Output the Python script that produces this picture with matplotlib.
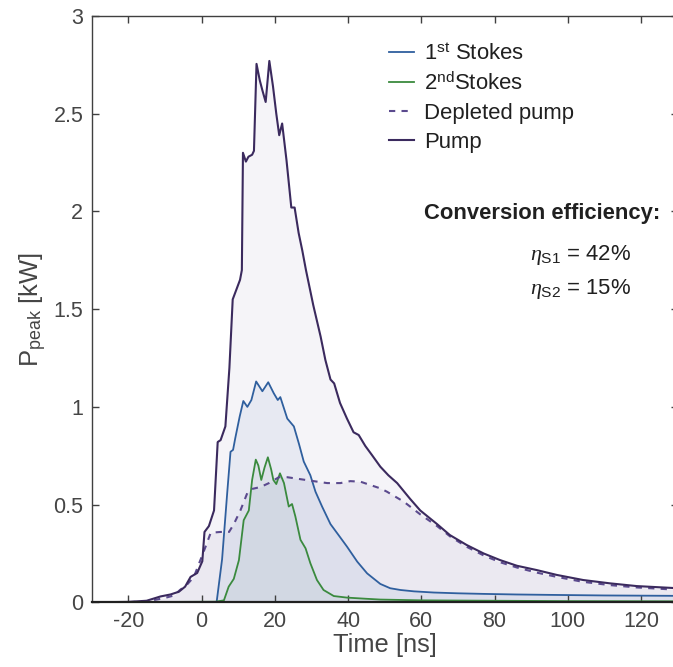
import matplotlib
matplotlib.use("Agg")
import matplotlib.pyplot as plt
from matplotlib.ticker import FuncFormatter

plt.rcParams['font.family'] = ['Liberation Sans', 'DejaVu Sans']
plt.rcParams['mathtext.fontset'] = 'custom'
plt.rcParams['mathtext.rm'] = 'Liberation Sans'
plt.rcParams['mathtext.it'] = 'Liberation Serif:italic'
plt.rcParams['mathtext.bf'] = 'Liberation Sans:bold'

# ---------------- data ----------------
pump_t = [-30, -20, -15, -11.2, -8.5, -6.2, -4.5, -3.0, -1.2, 0.2, 0.8, 2.0, 3.4, 4.4, 5.2,
          6.5, 7.6, 8.5, 9.5, 10.5, 11.0, 11.3, 12.1, 12.8, 13.8, 14.3, 15.0, 15.9, 16.6,
          17.5, 18.5, 19.5, 20.4, 21.2, 22.0, 23.2, 24.5, 25.4, 26.5, 27.5, 28.5, 29.5,
          30.5, 31.5, 32.5, 33.8, 35.2, 36.2, 37.8, 39.7, 41.5, 42.9, 44.7, 46.5, 48.8,
          51.0, 53.4, 56.9, 59.7, 64.3, 67.8, 72.4, 77.0, 81.5, 86.1, 91.5, 97.0, 104.2,
          111.5, 118.8, 130]
pump_p = [0.0, 0.002, 0.008, 0.03, 0.04, 0.054, 0.08, 0.13, 0.15, 0.21, 0.36, 0.39, 0.47, 0.82, 0.83,
          0.9, 1.2, 1.55, 1.6, 1.65, 1.7, 2.30, 2.255, 2.28, 2.29, 2.31, 2.755, 2.67, 2.62,
          2.56, 2.77, 2.64, 2.50, 2.39, 2.45, 2.26, 2.02, 2.02, 1.89, 1.80, 1.70, 1.61,
          1.52, 1.44, 1.36, 1.24, 1.14, 1.12, 1.02, 0.94, 0.87, 0.856, 0.80, 0.754, 0.694,
          0.65, 0.61, 0.53, 0.47, 0.40, 0.344, 0.293, 0.25, 0.216, 0.187, 0.165, 0.14, 0.114,
          0.097, 0.083, 0.072]

dep_t = [-30, -20, -15, -10.5, -7.5, -5.9, -4.0, -2.1, 1.1, 2.5, 5.2, 7.5, 8.8, 10.6, 12.5,
         13.8, 16.1, 18.4, 21.1, 23.4, 27.0, 30.6, 34.3, 37.9, 40.6, 43.4, 46.1, 48.8, 50.6,
         55.2, 59.7, 64.3, 68.0, 72.5, 77.0, 81.5, 86.1, 91.5, 97.0, 104.0, 111.5, 118.8, 130]
dep_p = [0.0, 0.001, 0.005, 0.02, 0.035, 0.063, 0.09, 0.13, 0.285, 0.356, 0.36, 0.36, 0.40, 0.47, 0.56,
         0.58, 0.59, 0.61, 0.64, 0.64, 0.63, 0.62, 0.61, 0.61, 0.62, 0.617, 0.60, 0.583, 0.566,
         0.515, 0.45, 0.39, 0.335, 0.283, 0.24, 0.205, 0.178, 0.152, 0.13, 0.105, 0.088, 0.076, 0.064]

s1_t = [-30, 4.1, 5.6, 7.0, 7.9, 8.6, 9.2, 10.4, 11.4, 12.5, 13.6, 14.9, 16.6, 18.2, 19.7,
        20.8, 21.5, 23.4, 25.2, 26.6, 27.9, 29.7, 31.1, 32.9, 35.2, 37.4, 39.7, 42.5, 45.2,
        48.8, 51.5, 54.3, 58.0, 63.4, 70.0, 77.0, 86.0, 95.0, 110.0, 130]
s1_p = [0.0, 0.0, 0.22, 0.56, 0.77, 0.78, 0.84, 0.95, 1.03, 1.00, 1.035, 1.13, 1.08, 1.126, 1.07,
        1.035, 1.05, 0.94, 0.90, 0.81, 0.72, 0.65, 0.566, 0.49, 0.40, 0.344, 0.285, 0.208, 0.148,
        0.094, 0.072, 0.063, 0.056, 0.05, 0.046, 0.043, 0.040, 0.038, 0.035, 0.033]

s2_t = [-30, 3.8, 6.1, 7.4, 8.8, 10.2, 11.5, 12.9, 13.8, 14.8, 15.5, 16.3, 17.2, 18.1, 19.0,
        19.6, 20.4, 21.4, 22.5, 23.8, 24.7, 25.6, 27.0, 28.4, 29.7, 31.5, 33.3, 36.1, 39.7,
        45.0, 48.8, 60.0, 80.0, 100.0, 130]
s2_p = [0.0, 0.003, 0.01, 0.08, 0.12, 0.216, 0.42, 0.47, 0.626, 0.73, 0.70, 0.626, 0.69, 0.742, 0.68,
        0.626, 0.605, 0.66, 0.61, 0.49, 0.503, 0.44, 0.32, 0.276, 0.20, 0.114, 0.063, 0.032, 0.024,
        0.018, 0.014, 0.010, 0.008, 0.006, 0.005]

labels = ['1$^{\\mathrm{st}}$ Stokes', '2$^{\\mathrm{nd}}$Stokes', 'Depleted pump', 'Pump']
x_ticks = [-20, 0, 20, 40, 60, 80, 100, 120]
y_ticks = [0, 0.5, 1, 1.5, 2, 2.5, 3]

# ---------------- style ----------------
c_pump = '#3b2a5e'
c_dep = '#5b4a8e'
c_s1 = '#2f5f9e'
c_s2 = '#3a8a3e'
txt = '#454545'

W, H = 673, 667
fig = plt.figure(figsize=(W / 100, H / 100), dpi=100)
ax = fig.add_axes([91.7 / W, (H - 602.3) / H, 586.0 / W, 586.3 / H])

ax.fill_between(pump_t, pump_p, color='#3b2a7a', alpha=0.05, lw=0)
ax.fill_between(dep_t, dep_p, color='#5b3a8e', alpha=0.06, lw=0)
ax.fill_between(s1_t, s1_p, color='#2f5fae', alpha=0.07, lw=0)
ax.fill_between(s2_t, s2_p, color='#2f6f5e', alpha=0.06, lw=0)

l1, = ax.plot(s1_t, s1_p, color=c_s1, lw=1.3)
l2, = ax.plot(s2_t, s2_p, color=c_s2, lw=1.3)
l3, = ax.plot(dep_t, dep_p, color=c_dep, lw=1.5, ls=(0, (3, 3)))
l4, = ax.plot(pump_t, pump_p, color=c_pump, lw=1.5)

ax.set_xlim(-30, 130)
ax.set_ylim(0, 3)
ax.set_xticks(x_ticks)
ax.set_yticks(y_ticks)
ax.yaxis.set_major_formatter(FuncFormatter(lambda v, p: '%g' % v))
ax.xaxis.set_major_formatter(FuncFormatter(lambda v, p: '%g' % v))
ax.tick_params(direction='in', length=5, width=1, colors='#404040', labelsize=15.5,
               top=True, right=True, labelcolor=txt, pad=6)
for s in ['left', 'top', 'right']:
    ax.spines[s].set_color('#404040')
    ax.spines[s].set_linewidth(1.0)
ax.spines['bottom'].set_color('#202020')
ax.spines['bottom'].set_linewidth(1.6)

ax.set_xlabel('Time [ns]', fontsize=18.4, color=txt, labelpad=1)
ax.set_ylabel('P$_{\\mathrm{peak}}$ [kW]', fontsize=18.4, color=txt, labelpad=3)

leg = ax.legend([l1, l2, l3, l4], labels, loc='upper left',
                bbox_to_anchor=((389 - 91.7) / 586.0, (602.3 - 43) / 586.3),
                frameon=False, fontsize=15.9, handlelength=1.15, handletextpad=0.45,
                labelspacing=0.36, borderaxespad=0, borderpad=0)
for t in leg.get_texts():
    t.set_color('#202020')

fig.text(660 / W, 1 - 213 / H, 'Conversion efficiency:', fontsize=15.8, fontweight='bold',
         color='#202020', ha='right', va='center')
fig.text(631 / W, 1 - 255 / H, '$\\eta_{\\mathrm{S1}}$ = 42%', fontsize=15.9,
         color='#202020', ha='right', va='center')
fig.text(631 / W, 1 - 289 / H, '$\\eta_{\\mathrm{S2}}$ = 15%', fontsize=15.9,
         color='#202020', ha='right', va='center')

fig.savefig('out.png', dpi=100)
